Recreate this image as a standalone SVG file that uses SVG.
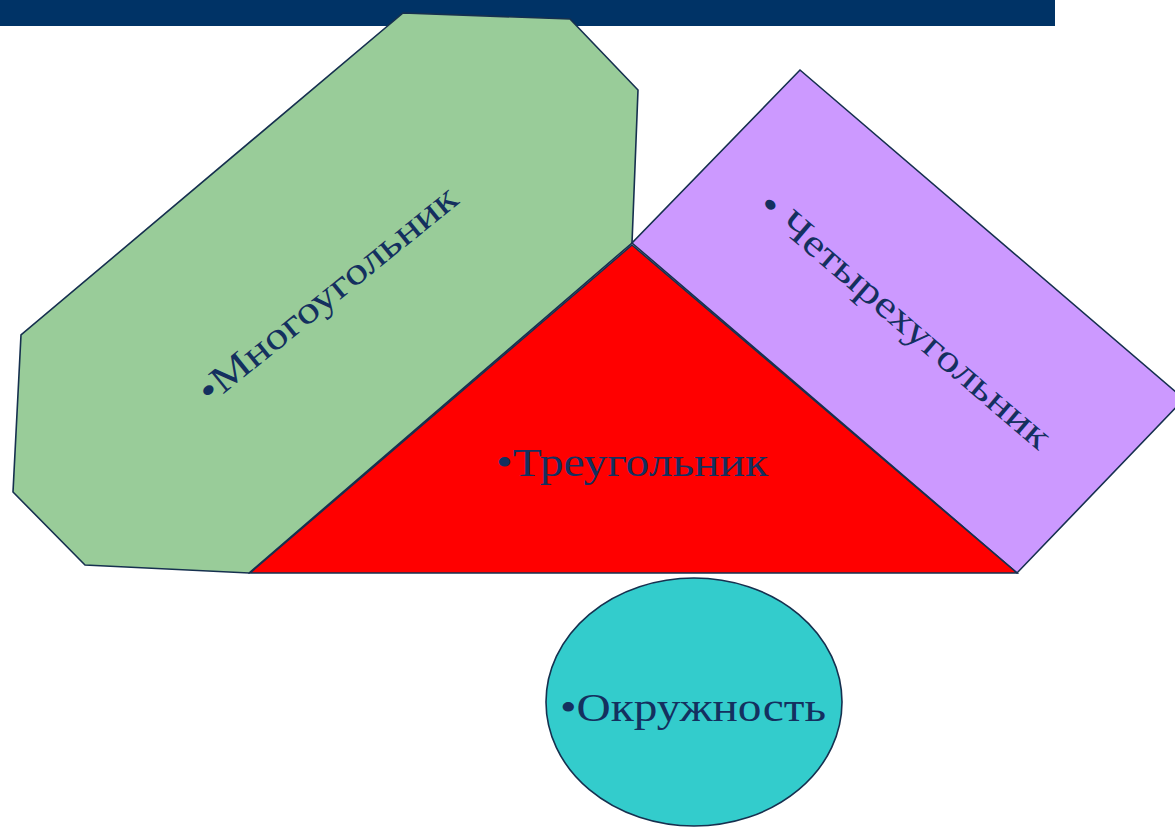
<svg xmlns="http://www.w3.org/2000/svg" width="1175" height="827" viewBox="0 0 1175 827">
  <style>
    .shape { stroke: #16304f; stroke-width: 1.6; stroke-linejoin: miter; }
    .lbl { font-family: "Liberation Serif", "Times New Roman", serif; fill: #14305f; }
  </style>
  <rect x="0" y="0" width="1175" height="827" fill="#ffffff"/>
  <g id="header-bar">
    <rect x="0" y="0" width="1055" height="26" fill="#003366"/>
  </g>
  <g id="node-polygon">
    <polygon class="shape" fill="#99cc99" points="403,13 570,19 638,90 632,243 249,573 85,565 13,492 21,335"/>
    <text class="lbl" font-size="38" x="210" y="405" textLength="322" lengthAdjust="spacingAndGlyphs" transform="rotate(-39 210 405)">•Многоугольник</text>
  </g>
  <g id="node-quadrilateral">
    <polygon class="shape" fill="#cc99ff" points="800,70 1184,399 1017,573 632,243"/>
    <text class="lbl" font-size="38" x="756" y="209" textLength="372" lengthAdjust="spacingAndGlyphs" transform="rotate(40.6 756 209)">• Четырехугольник</text>
  </g>
  <g id="node-triangle">
    <polygon class="shape" fill="#ff0000" points="632,245 1017,573 250,573"/>
    <text class="lbl" font-size="40" x="496" y="476" textLength="272" lengthAdjust="spacingAndGlyphs">•Треугольник</text>
  </g>
  <g id="node-circle">
    <ellipse class="shape" fill="#33cccc" cx="694" cy="702" rx="148" ry="124"/>
    <text class="lbl" font-size="40" x="560" y="721" textLength="266" lengthAdjust="spacingAndGlyphs">•Окружность</text>
  </g>
</svg>
